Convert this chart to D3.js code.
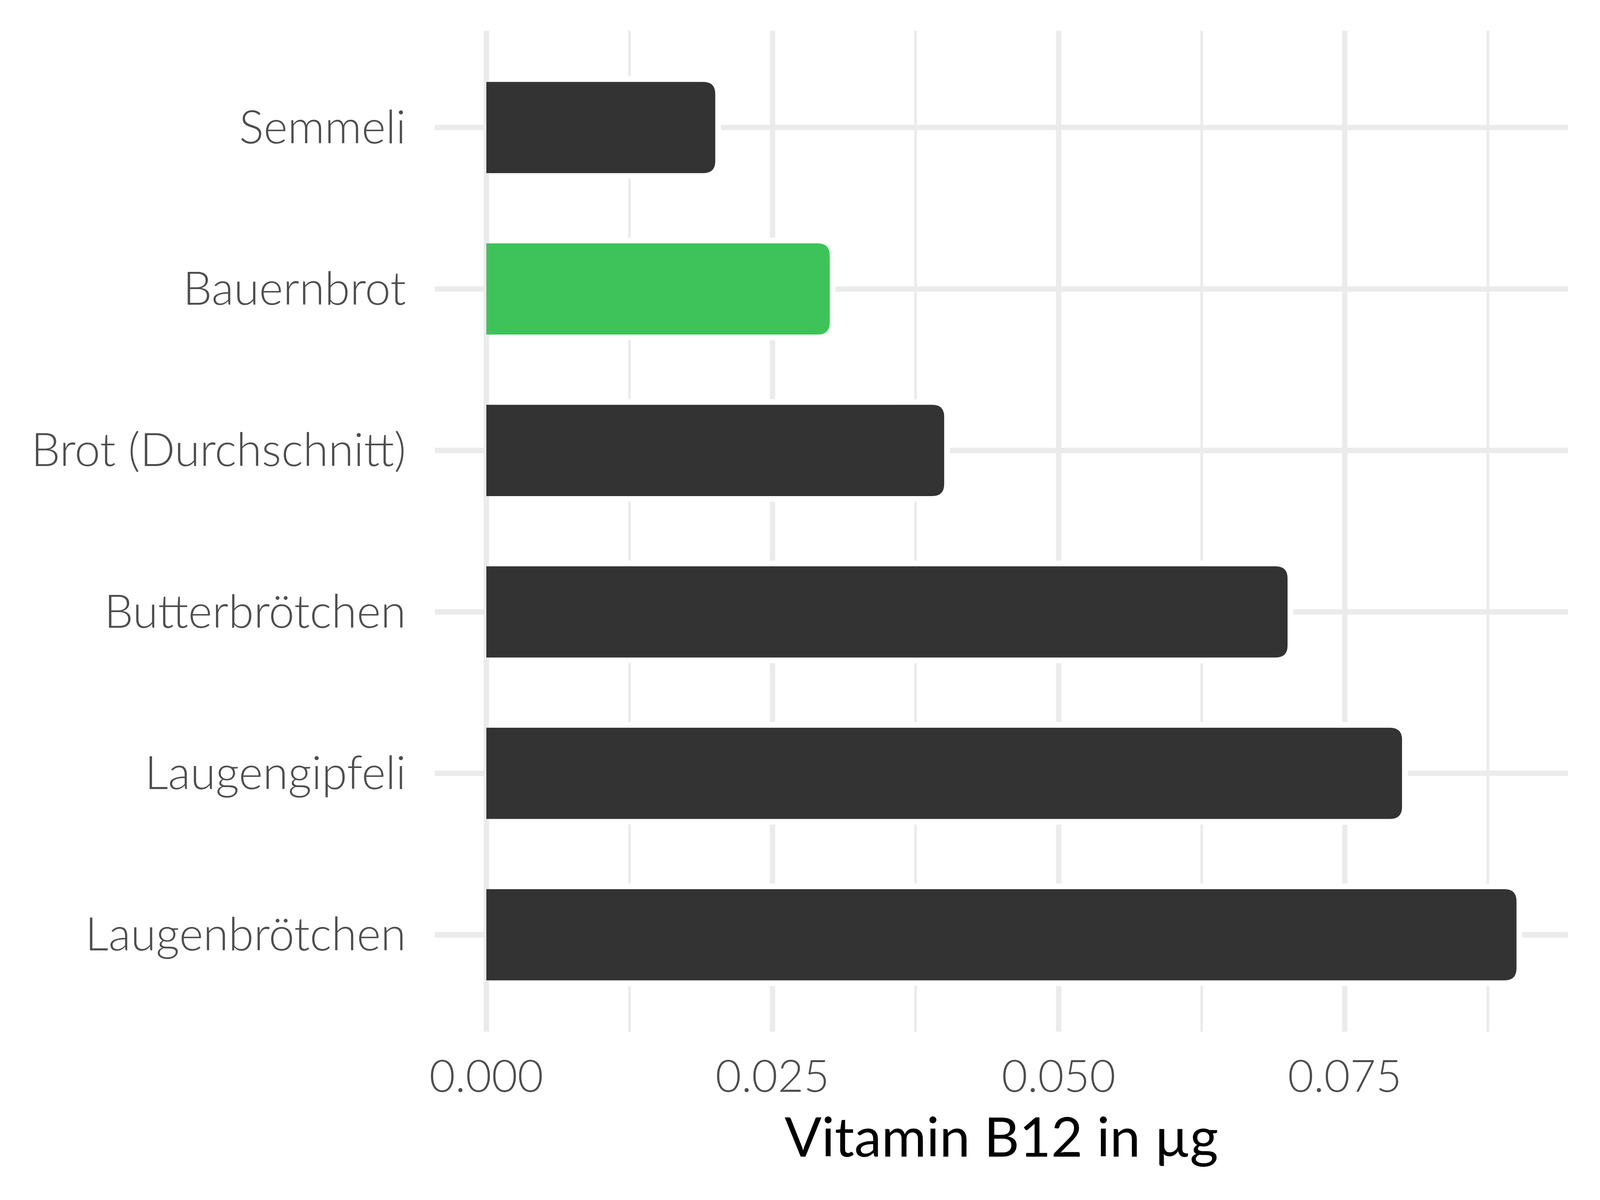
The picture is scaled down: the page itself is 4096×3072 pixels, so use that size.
<!DOCTYPE html>
<html><head><meta charset="utf-8">
<script src="https://cdn.jsdelivr.net/npm/d3@7"></script>
<style>html,body{margin:0;padding:0;background:#fff;overflow:hidden}</style>
</head><body>
<script>
const categories = ["Semmeli","Bauernbrot","Brot (Durchschnitt)","Butterbrötchen","Laugengipfeli","Laugenbrötchen"];
const values = [0.02,0.03,0.04,0.07,0.08,0.09];
const highlight = ["Bauernbrot"];
const majorTicks = [0,0.025,0.05,0.075];
const minorTicks = [0.0125,0.0375,0.0625,0.0875];
const xTitle = "Vitamin B12 in µg";

const W=4800,H=3600;
const svg=d3.select("body").append("svg").attr("width",4096).attr("height",3072).attr("viewBox",`0 0 ${W} ${H}`);
svg.append("rect").attr("width",W).attr("height",H).attr("fill","#fff");
const x=d3.scaleLinear().domain([-0.0045,0.0945]).range([1304.5,4704]);
const y=d3.scalePoint().domain(categories).range([92,3095]).padding(0.6);
const bh=y.step()*0.565;
const grid="#EBEBEB";
const font="Lato, 'Open Sans', sans-serif";
// gridlines
svg.append("g").selectAll("line").data(minorTicks).join("line")
 .attr("x1",d=>x(d)).attr("x2",d=>x(d)).attr("y1",92).attr("y2",3095).attr("stroke",grid).attr("stroke-width",8);
svg.append("g").selectAll("line").data(majorTicks).join("line")
 .attr("x1",d=>x(d)).attr("x2",d=>x(d)).attr("y1",92).attr("y2",3095).attr("stroke",grid).attr("stroke-width",16);
svg.append("g").selectAll("line").data(categories).join("line")
 .attr("x1",1304.5).attr("x2",4704).attr("y1",d=>y(d)).attr("y2",d=>y(d)).attr("stroke",grid).attr("stroke-width",16);
// bars
function barPath(x0,x1,y0,h,r){
  r=Math.min(r,(x1-x0),h/2);
  return `M${x0},${y0}H${x1-r}Q${x1},${y0} ${x1},${y0+r}V${y0+h-r}Q${x1},${y0+h} ${x1-r},${y0+h}H${x0}Z`;
}
const data=categories.map((c,i)=>({c,v:values[i]}));
const gap=17;
svg.append("g").selectAll("path").data(data).join("path")
 .attr("d",d=>barPath(x(0)+8,x(d.v)+gap,y(d.c)-bh/2-gap,bh+2*gap,36+gap)).attr("fill","#fff");
svg.append("g").selectAll("path").data(data).join("path")
 .attr("d",d=>barPath(x(0),x(d.v),y(d.c)-bh/2,bh,36))
 .attr("fill",d=>highlight.includes(d.c)?"#3EC35A":"#333333");
// y labels
svg.append("g").selectAll("text").data(categories).join("text")
 .attr("x",1218).attr("y",d=>y(d)+47).attr("text-anchor","end")
 .attr("font-family",font).attr("font-weight",300).attr("font-size",138).attr("fill","#4D4D4D").text(d=>d);
// x tick labels
svg.append("g").selectAll("text").data(majorTicks).join("text")
 .attr("x",d=>x(d)).attr("y",3275).attr("text-anchor","middle")
 .attr("font-family",font).attr("font-weight",300).attr("font-size",134).attr("fill","#4D4D4D").text(d=>d3.format(".3f")(d));
svg.append("text").attr("x",(1304.5+4704)/2).attr("y",3470).attr("text-anchor","middle")
 .attr("font-family",font).attr("font-weight",400).attr("font-size",164).attr("fill","#000").text(xTitle);
</script>
</body></html>
